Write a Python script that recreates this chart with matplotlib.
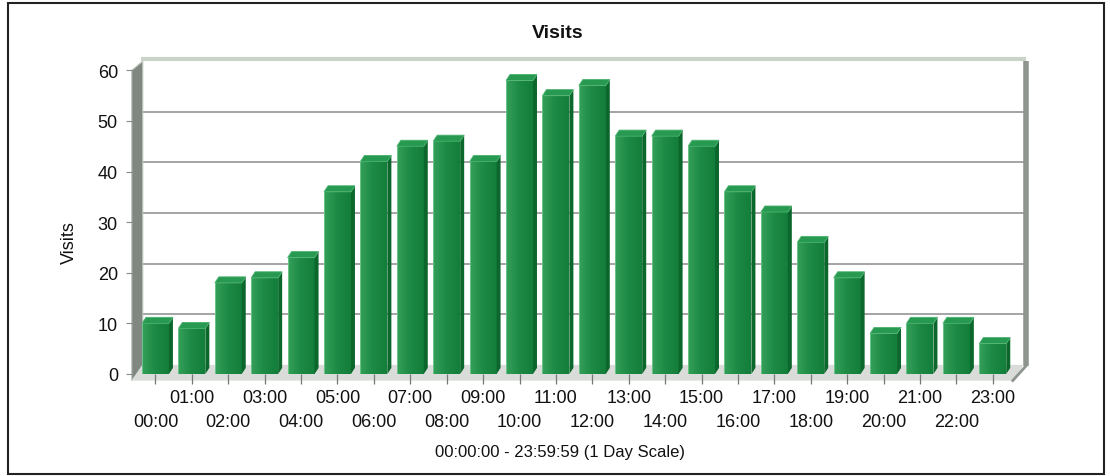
import numpy as np
import matplotlib.pyplot as plt
from matplotlib.patches import Polygon, Rectangle
from matplotlib.colors import LinearSegmentedColormap

plt.rcParams['font.family'] = ['Liberation Sans', 'DejaVu Sans']

hours = ['%02d:00' % h for h in range(24)]
visits = [10, 9, 18, 19, 23, 36, 42, 45, 46, 42, 58, 55, 57, 47, 47, 45, 36, 32, 26, 19, 8, 10, 10, 6]
y_ticks = [0, 10, 20, 30, 40, 50, 60]

W, H = 1110, 477
fig = plt.figure(figsize=(W / 100, H / 100), dpi=100)
ax = fig.add_axes([131.8 / W, (H - 375) / H, 881 / W, 303.6 / H])

x = np.arange(len(visits))
x0, x1 = -0.65, 23.55
ymax = 60
ax.set_xlim(x0, x1)
ax.set_ylim(0, ymax)
for s in ax.spines.values():
    s.set_visible(False)

# depth of the walls and of the bars, in data units
wdx, wdy = 0.30, 1.8
bdx, bdy = 0.11, 1.2
floor_front = -1.3

# back wall with grid
ax.add_patch(Polygon([(x0 + wdx, wdy), (x1 + wdx, wdy), (x1 + wdx, ymax + wdy), (x0 + wdx, ymax + wdy)],
                     closed=True, fc='white', ec='none', clip_on=False, zorder=0))
for v in y_ticks[1:-1]:
    ax.plot([x0 + wdx, x1 + wdx], [v + wdy, v + wdy], color='#8c8c8c', lw=1.1, clip_on=False, zorder=1)
ax.plot([x0 + wdx, x1 + wdx], [ymax + wdy + 0.5] * 2, color='#c9d3c9', lw=3, clip_on=False, zorder=1)

# left wall
ax.add_patch(Polygon([(x0, floor_front), (x0 + wdx, wdy), (x0 + wdx, ymax + wdy), (x0, ymax)],
                     closed=True, fc='#7f8780', ec='#b9bfb9', lw=0.8, clip_on=False, zorder=1))
# right edge shadow
ax.plot([x1 + wdx + 0.05] * 2, [wdy - 0.3, ymax + wdy], color='#8e958f', lw=4, clip_on=False,
        zorder=1, solid_capstyle='butt')
# floor
ax.add_patch(Polygon([(x0, floor_front), (x1, floor_front), (x1 + wdx, wdy), (x0 + wdx, wdy)],
                     closed=True, fc='#d9dcd9', ec='none', clip_on=False, zorder=1))
ax.plot([x1, x1 + wdx + 0.05], [floor_front, wdy - 0.3], color='#8e958f', lw=2, clip_on=False, zorder=1)

# bars: front faces, then top and side faces
bw = 0.74
bars = ax.bar(x, visits, width=bw, color='#1d8a45', edgecolor='none', zorder=3)
grad = np.linspace(0, 1, 64).reshape(1, -1)
cmap = LinearSegmentedColormap.from_list('front', ['#34a05a', '#1c8944', '#147e3b'])
for b, v in zip(bars, visits):
    xl = b.get_x()
    xr = xl + b.get_width()
    im = ax.imshow(grad, cmap=cmap, aspect='auto', extent=(xl, xr, 0, v), zorder=3.5,
                   interpolation='bilinear')
    im.set_clip_path(b)
    ax.add_patch(Polygon([(xr, 0), (xr + bdx, bdy), (xr + bdx, v + bdy), (xr, v)],
                         closed=True, fc='#0c672d', ec='none', zorder=4))
    ax.add_patch(Polygon([(xl, v), (xr, v), (xr + bdx, v + bdy), (xl + bdx, v + bdy)],
                         closed=True, fc='#279950', ec='#4cb270', lw=0.6, zorder=4))
    ax.plot([xl, xl], [0, v], color='#6cc48a', lw=0.7, zorder=4)

# ticks and labels
ax.set_yticks(y_ticks)
ax.set_yticklabels([str(v) for v in y_ticks], fontsize=13, color='#111111')
ax.tick_params(axis='y', length=4, width=0.8, color='#888888', pad=6)

ax.set_xticks(x[::2])
ax.set_xticklabels(hours[::2], fontsize=13, color='#111111')
ax.set_xticks(x[1::2], minor=True)
ax.set_xticklabels(hours[1::2], minor=True, fontsize=13, color='#111111')
ax.tick_params(axis='x', which='both', length=7, width=0.9, color='#777777')
ax.tick_params(axis='x', which='major', pad=21)
ax.tick_params(axis='x', which='minor', pad=4)

ax.set_ylabel('Visits', fontsize=13, color='#111111')
ax.yaxis.set_label_coords((78 - 131.8) / 881, (375 - 243) / 303.6)
fig.text(560 / W, 1 - 453 / H, '00:00:00 - 23:59:59 (1 Day Scale)', ha='center', va='center',
         fontsize=12, color='#111111')
fig.text(558 / W, 1 - 33 / H, 'Visits', ha='center', va='center', fontsize=14,
         fontweight='bold', color='#111111')

# outer frame
fig.patches.append(Rectangle((8 / W, 2 / H), 1096 / W, 471 / H, transform=fig.transFigure,
                             fill=False, ec='#222222', lw=1.5))

fig.savefig('out.png', dpi=100)
